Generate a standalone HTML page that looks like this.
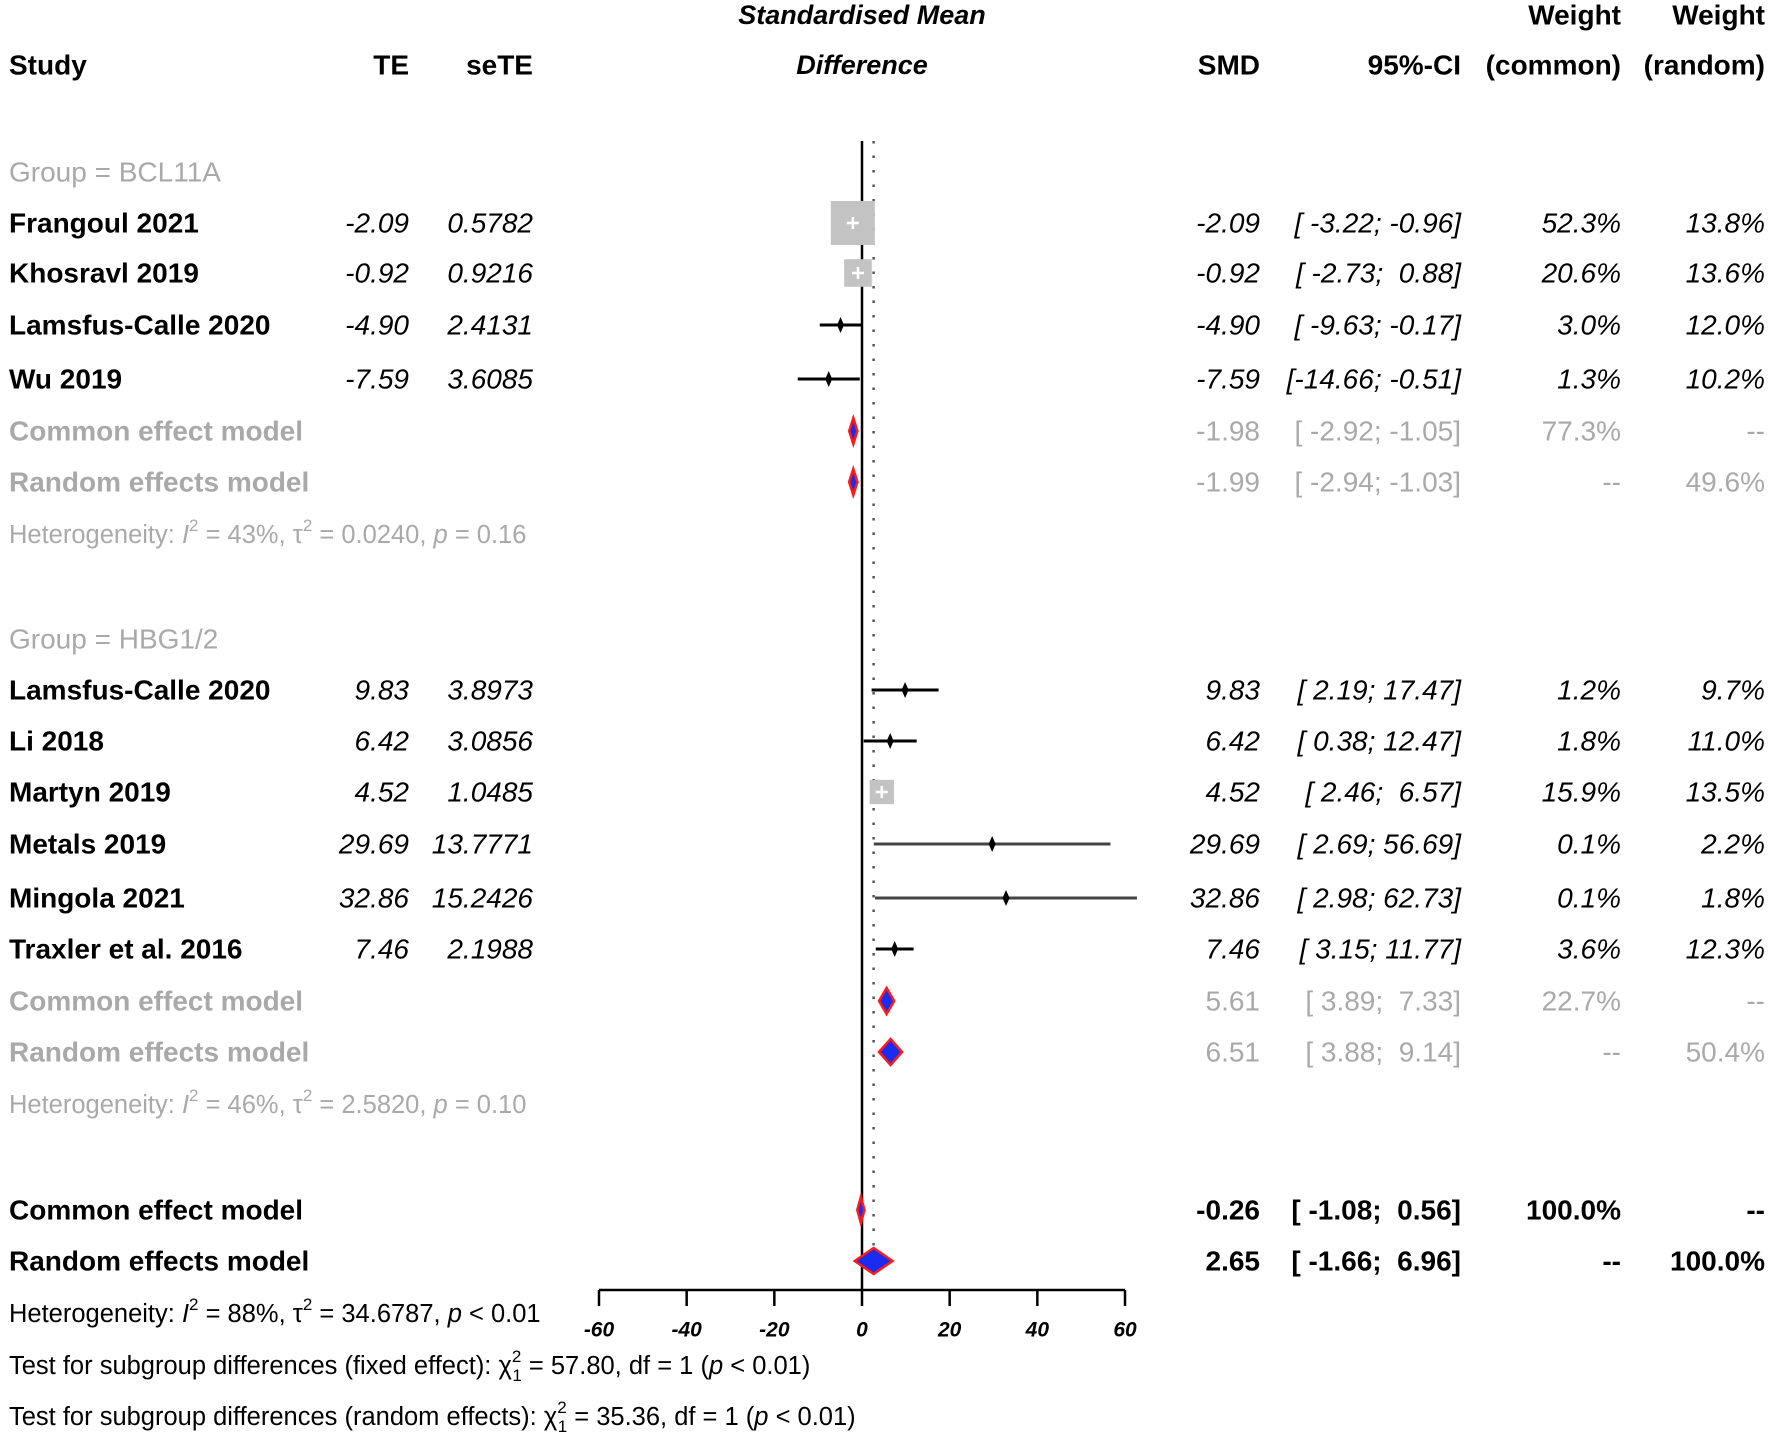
<!DOCTYPE html>
<html><head><meta charset="utf-8"><style>
html,body{margin:0;padding:0;background:#fff;}
svg{display:block;font-family:"Liberation Sans",sans-serif;}
text{white-space:pre;}
</style></head><body>
<svg id="plot" width="1772" height="1440" viewBox="0 0 1772 1440" xmlns="http://www.w3.org/2000/svg"></svg>
<script>
// ---- data ----
const studyNames = ["Frangoul 2021","Khosravl 2019","Lamsfus-Calle 2020","Wu 2019","Lamsfus-Calle 2020","Li 2018","Martyn 2019","Metals 2019","Mingola 2021","Traxler et al. 2016"];
const studyTE = [-2.09,-0.92,-4.90,-7.59,9.83,6.42,4.52,29.69,32.86,7.46];
const studySE = ["0.5782","0.9216","2.4131","3.6085","3.8973","3.0856","1.0485","13.7771","15.2426","2.1988"];
const studyLower = [-3.22,-2.73,-9.63,-14.66,2.19,0.38,2.46,2.69,2.98,3.15];
const studyUpper = [-0.96,0.88,-0.17,-0.51,17.47,12.47,6.57,56.69,62.73,11.77];
const weightCommon = [52.3,20.6,3.0,1.3,1.2,1.8,15.9,0.1,0.1,3.6];
const weightRandom = [13.8,13.6,12.0,10.2,9.7,11.0,13.5,2.2,1.8,12.3];
const studyRowY = [223,273,325,379,690,741,792,844,898,949];
const pooledLabels = ["Common effect model","Random effects model","Common effect model","Random effects model","Common effect model","Random effects model"];
const pooledEst = [-1.98,-1.99,5.61,6.51,-0.26,2.65];
const pooledLower = [-2.92,-2.94,3.89,3.88,-1.08,-1.66];
const pooledUpper = [-1.05,-1.03,7.33,9.14,0.56,6.96];
const pooledWC = ["77.3%","--","22.7%","--","100.0%","--"];
const pooledWR = ["--","49.6%","--","50.4%","--","100.0%"];
const pooledRowY = [431,482,1001,1052,1210,1261];
const tickValues = [-60,-40,-20,0,20,40,60];

// ---- layout ----
const svg = document.getElementById('plot');
const NS = "http://www.w3.org/2000/svg";
const X0 = 862, PX = 263/60;
function x(v){ return X0 + v*PX; }
const GRAY = "#a9a9a9";
function el(tag, attrs, parent){
  const e = document.createElementNS(NS, tag);
  for (const k in attrs) e.setAttribute(k, attrs[k]);
  (parent||svg).appendChild(e);
  return e;
}
function txt(s, xx, y, o){
  o = o||{};
  const t = el('text', {x:xx, y:y, 'dominant-baseline':'central', 'font-size':o.size||28,
    'text-anchor':o.anchor||'start', fill:o.fill||'#000',
    'font-weight':o.bold?'bold':'normal', 'font-style':o.italic?'italic':'normal'});
  t.innerHTML = s;
  return t;
}
function fmt(v){ return v.toFixed(2); }
function ci(l,u){
  let a = fmt(l), b = fmt(u);
  return '[' + (a.length<6?' ':'') + a + '; ' + (b.length<5?' ':'') + b + ']';
}

// headers
let h;
h = txt('Standardised Mean', 862, 15, {anchor:'middle', bold:true, italic:true, size:27});  
h = txt('Difference', 862, 65, {anchor:'middle', bold:true, italic:true, size:27});  
h = txt('Study', 9, 65, {bold:true});  
h = txt('TE', 409, 65, {bold:true, anchor:'end'});  
h = txt('seTE', 533, 65, {bold:true, anchor:'end'});  
h = txt('SMD', 1260, 65, {bold:true, anchor:'end'});  
h = txt('95%-CI', 1461, 65, {bold:true, anchor:'end'});  
h = txt('Weight', 1621, 15, {bold:true, anchor:'end'});  
h = txt('(common)', 1621, 65, {bold:true, anchor:'end'});  
h = txt('Weight', 1765, 15, {bold:true, anchor:'end'});  
h = txt('(random)', 1765, 65, {bold:true, anchor:'end'});  

h = txt('Group = BCL11A', 9, 172, {fill:GRAY});  
h = txt('Group = HBG1/2', 9, 639, {fill:GRAY});  

// reference lines
const zl = el('line', {x1:x(0), x2:x(0), y1:141, y2:1292, stroke:'#000', 'stroke-width':2.5});
 
const dl = el('line', {x1:x(pooledEst[5]), x2:x(pooledEst[5]), y1:141, y2:1270, stroke:'#555', 'stroke-width':2.5, 'stroke-dasharray':'2.5 12'});
 

// studies
const LO = x(-60)-2, HI = x(60)+12;
for (let i=0;i<studyNames.length;i++){
  const y = studyRowY[i];
  const g = el('g', {});
  
  
  g.appendChild(txt(studyNames[i], 9, y, {bold:true}));
  g.appendChild(txt(fmt(studyTE[i]), 409, y, {italic:true, anchor:'end'}));
  g.appendChild(txt(studySE[i], 533, y, {italic:true, anchor:'end'}));
  g.appendChild(txt(fmt(studyTE[i]), 1260, y, {italic:true, anchor:'end'}));
  g.appendChild(txt(ci(studyLower[i], studyUpper[i]), 1461, y, {italic:true, anchor:'end'}));
  g.appendChild(txt(weightCommon[i].toFixed(1)+'%', 1621, y, {italic:true, anchor:'end'}));
  g.appendChild(txt(weightRandom[i].toFixed(1)+'%', 1765, y, {italic:true, anchor:'end'}));
  const x1 = Math.max(LO, x(studyLower[i])), x2 = Math.min(HI, x(studyUpper[i]));
  const wide = studyUpper[i]-studyLower[i] > 40;
  const ln = el('line', {x1:x1, x2:x2, y1:y, y2:y, stroke: wide?'#444':'#000', 'stroke-width':3}, g);
   
  const s = 44*Math.sqrt(weightCommon[i]/52.3);
  if (s > 16){
    const sq = el('rect', {x:x(studyTE[i])-s/2, y:y-s/2, width:s, height:s, fill:'#c3c3c3'}, g);
     
    el('line', {x1:x(studyTE[i])-6, x2:x(studyTE[i])+6, y1:y, y2:y, stroke:'#fff', 'stroke-width':2.5}, g);
    el('line', {x1:x(studyTE[i]), x2:x(studyTE[i]), y1:y-6, y2:y+6, stroke:'#fff', 'stroke-width':2.5}, g);
  } else {
    const m = el('path', {d:'M'+x(studyTE[i])+','+(y-8)+' l3.5,8 l-3.5,8 l-3.5,-8 z', fill:'#000'}, g);
     
  }
}

// pooled
for (let i=0;i<pooledLabels.length;i++){
  const y = pooledRowY[i];
  const overall = i>=4;
  const fill = overall ? '#000' : GRAY;
  const g = el('g', {});
  
  
  g.appendChild(txt(pooledLabels[i], 9, y, {bold:true, fill:fill}));
  g.appendChild(txt(fmt(pooledEst[i]), 1260, y, {bold:overall, fill:fill, anchor:'end'}));
  g.appendChild(txt(ci(pooledLower[i], pooledUpper[i]), 1461, y, {bold:overall, fill:fill, anchor:'end'}));
  g.appendChild(txt(pooledWC[i], 1621, y, {bold:overall, fill:fill, anchor:'end'}));
  g.appendChild(txt(pooledWR[i], 1765, y, {bold:overall, fill:fill, anchor:'end'}));
  const xl = x(pooledLower[i]), xu = x(pooledUpper[i]), xm = x(pooledEst[i]);
  const d = el('path', {d:`M${xl},${y} L${xm},${y-13} L${xu},${y} L${xm},${y+13} Z`, fill:'#1a2cf0', stroke:'#ff1a1a', 'stroke-width':2.5}, g);
   
}

// heterogeneity & tests
const HS = 25.5;
const hs = {size:HS, fill:GRAY};
h = txt('Heterogeneity: <tspan font-style="italic">I</tspan><tspan dy="-10" font-size="17">2</tspan><tspan dy="10"> = 43%, τ</tspan><tspan dy="-10" font-size="17">2</tspan><tspan dy="10"> = 0.0240, </tspan><tspan font-style="italic">p</tspan> = 0.16', 9, 535, hs);
 
h = txt('Heterogeneity: <tspan font-style="italic">I</tspan><tspan dy="-10" font-size="17">2</tspan><tspan dy="10"> = 46%, τ</tspan><tspan dy="-10" font-size="17">2</tspan><tspan dy="10"> = 2.5820, </tspan><tspan font-style="italic">p</tspan> = 0.10', 9, 1105, hs);
 
h = txt('Heterogeneity: <tspan font-style="italic">I</tspan><tspan dy="-10" font-size="17">2</tspan><tspan dy="10"> = 88%, τ</tspan><tspan dy="-10" font-size="17">2</tspan><tspan dy="10"> = 34.6787, </tspan><tspan font-style="italic">p</tspan> &lt; 0.01', 9, 1314, {size:HS});
 
h = txt('Test for subgroup differences (fixed effect): χ<tspan dy="-10" font-size="17">2</tspan><tspan dx="-9" dy="19" font-size="17">1</tspan><tspan dy="-9"> = 57.80, df = 1 (</tspan><tspan font-style="italic">p</tspan> &lt; 0.01)', 9, 1366, {size:HS});
 
h = txt('Test for subgroup differences (random effects): χ<tspan dy="-10" font-size="17">2</tspan><tspan dx="-9" dy="19" font-size="17">1</tspan><tspan dy="-9"> = 35.36, df = 1 (</tspan><tspan font-style="italic">p</tspan> &lt; 0.01)', 9, 1417, {size:HS});
 

// x axis
const ax = el('g', {});
 
el('line', {x1:x(tickValues[0]), x2:x(tickValues[tickValues.length-1]), y1:1290, y2:1290, stroke:'#000', 'stroke-width':2.5}, ax);
for (const v of tickValues){
  const tk = el('line', {x1:x(v), x2:x(v), y1:1290, y2:1306, stroke:'#000', 'stroke-width':2.5}, ax);
   
  const tl = txt(String(v), x(v), 1330, {size:21, italic:true, bold:true, anchor:'middle'});
  ax.appendChild(tl);
   
}
</script>
</body></html>
